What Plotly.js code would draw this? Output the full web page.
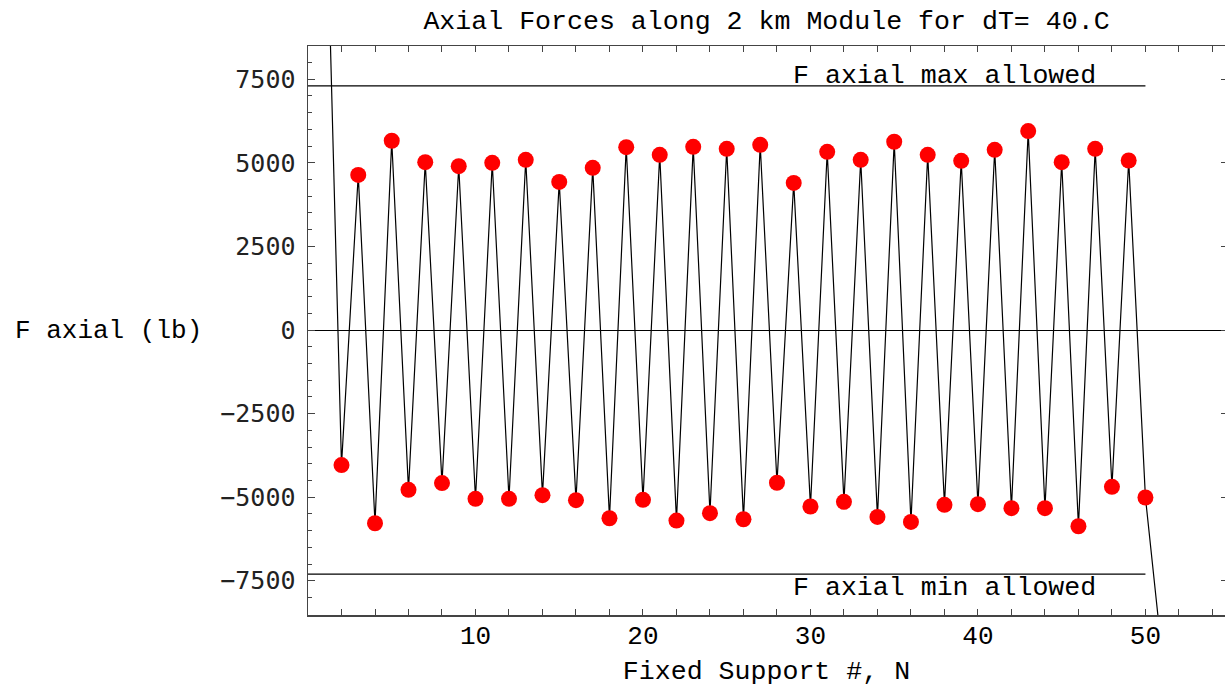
<!DOCTYPE html>
<html>
<head>
<meta charset="utf-8">
<script src="https://cdn.plot.ly/plotly-3.0.1.min.js"></script>
<style>
html, body { margin: 0; padding: 0; overflow: hidden; background: #fff; }
#chart { width: 1225px; height: 687px; }
</style>
</head>
<body>
<div id="chart"></div>
<script>
// Support number N
const supportN = [1,2,3,4,5,6,7,8,9,10,11,12,13,14,15,16,17,18,19,20,21,22,23,24,25,26,27,28,29,30,31,32,33,34,35,36,37,38,39,40,41,42,43,44,45,46,47,48,49,50,51];
// Axial force (lb)
const axialForce = [15000,-4040,4640,-5780,5660,-4780,5020,-4580,4900,-5050,5000,-5050,5090,-4940,4430,-5090,4850,-5630,5470,-5080,5240,-5700,5480,-5480,5420,-5660,5540,-4570,4400,-5280,5330,-5140,5090,-5590,5630,-5740,5240,-5230,5060,-5210,5390,-5330,5950,-5330,5020,-5870,5420,-4690,5070,-5010,-9750];
// Allowed limits
const limitN = [0, 50];
const maxAllowed = 7300;
const minAllowed = -7300;
const limitLabels = ["F axial max allowed", "F axial min allowed"];
const labelN = 38;
// x tick labels
const xTickVals = [10, 20, 30, 40, 50];

const mono = "Liberation Mono, Courier New, monospace";
const frameColor = "#444";

const traces = [
  {
    x: limitN, y: [maxAllowed, maxAllowed], mode: "lines",
    line: {color: "#000", width: 1.2}, hoverinfo: "skip", showlegend: false
  },
  {
    x: limitN, y: [minAllowed, minAllowed], mode: "lines",
    line: {color: "#000", width: 1.2}, hoverinfo: "skip", showlegend: false
  },
  {
    x: supportN, y: axialForce, mode: "lines+markers",
    line: {color: "#000", width: 1.2},
    marker: {color: "#ff0000", size: 16},
    showlegend: false
  },
  {
    x: [], y: [], yaxis: "y2", showlegend: false
  }
];

const layout = {
  width: 1225, height: 687,
  paper_bgcolor: "#fff", plot_bgcolor: "#fff",
  margin: {l: 308, r: 0, t: 46, b: 72},
  showlegend: false,
  title: {
    text: "Axial Forces along 2 km Module for dT= 40.C",
    font: {family: mono, size: 26.6, color: "#000"},
    x: 0.5, xref: "paper", xanchor: "center",
    y: 1 - 20/687, yref: "container", yanchor: "middle"
  },
  xaxis: {
    range: [0, 54.75],
    showgrid: false, zeroline: false,
    showline: true, linecolor: frameColor, linewidth: 1.5,
    mirror: "allticks",
    ticks: "inside", ticklen: 6, tickcolor: frameColor, tickwidth: 1,
    tickmode: "array", tickvals: xTickVals,
    minor: {dtick: 2, tick0: 0, ticks: "inside", ticklen: 3, tickcolor: frameColor, tickwidth: 1, showgrid: false},
    tickfont: {family: mono, size: 26, color: "#000"},
    ticklabelstandoff: -4,
    title: {text: "Fixed Support #, N", font: {family: mono, size: 26.6, color: "#000"}, standoff: 12}
  },
  yaxis: {
    range: [-8525, 8495],
    showgrid: false,
    zeroline: true, zerolinecolor: "#000", zerolinewidth: 1,
    showline: true, linecolor: frameColor, linewidth: 1.5,
    mirror: false,
    ticks: "inside", ticklen: 7, tickcolor: frameColor, tickwidth: 1,
    dtick: 2500, tick0: 0,
    minor: {dtick: 500, tick0: 0, ticks: "inside", ticklen: 3.5, tickcolor: frameColor, tickwidth: 1, showgrid: false},
    tickfont: {family: "DejaVu Sans Mono, monospace", size: 25, color: "#222"},
    ticklabelstandoff: 6,
    tickformat: "d"
  },
  yaxis2: {
    overlaying: "y", side: "right", matches: "y",
    range: [-8525, 8495],
    showgrid: false, zeroline: false, showline: false,
    ticks: "inside", ticklen: 4, tickcolor: frameColor, tickwidth: 1,
    dtick: 2500, tick0: 0, showticklabels: false
  },
  annotations: [
    {
      text: "F axial (lb)", xref: "paper", yref: "paper",
      x: (13 - 308) / 917, y: 0.5, xanchor: "left", yanchor: "middle",
      showarrow: false, font: {family: mono, size: 26, color: "#000"}
    },
    {
      text: limitLabels[0], xref: "x", yref: "y",
      x: labelN, y: maxAllowed + 300, xanchor: "center", yanchor: "middle",
      showarrow: false, font: {family: mono, size: 26.6, color: "#000"}
    },
    {
      text: limitLabels[1], xref: "x", yref: "y",
      x: labelN, y: minAllowed - 410, xanchor: "center", yanchor: "middle",
      showarrow: false, font: {family: mono, size: 26.6, color: "#000"}
    }
  ]
};

Plotly.newPlot("chart", traces, layout, {displayModeBar: false, staticPlot: true});
</script>
</body>
</html>
